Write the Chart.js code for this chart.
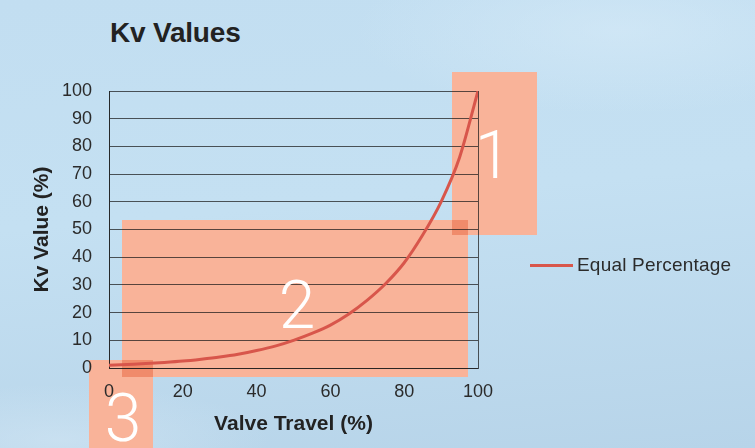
<!DOCTYPE html>
<html>
<head>
<meta charset="utf-8">
<script src="https://cdn.jsdelivr.net/npm/chart.js@4/dist/chart.umd.min.js"></script>
<style>
  html, body { margin: 0; padding: 0; }
  body {
    width: 755px; height: 448px; overflow: hidden; position: relative;
    font-family: "Liberation Sans", Arial, sans-serif;
    background:
      radial-gradient(ellipse 380px 120px at 620px 30px, rgba(215,235,248,0.6), rgba(215,235,248,0) 70%),
      radial-gradient(ellipse 300px 80px at 60px 440px, rgba(210,230,244,0.6), rgba(210,230,244,0) 70%),
      linear-gradient(175deg, #c2def1 0%, #c4e0f2 45%, #b7d4e9 100%);
  }
  .box { position: absolute; background: #f9b399; }
  .overlap { position: absolute; background: #f08b6b; }
  .num {
    position: absolute; width: 100px; text-align: center; color: #fff;
    font-family: Roboto, sans-serif; font-weight: 300; font-size: 66px; line-height: 66px;
    z-index: 3;
  }
  #title {
    position: absolute; left: 110px; top: 19px; margin: 0;
    font: bold 28px/28px "Liberation Sans", Arial, sans-serif; letter-spacing: -0.2px;
    color: #222;
  }
  #wrap { position: absolute; left: 0; top: 0; width: 755px; height: 448px; z-index: 2; }
  #legend { position: absolute; left: 530px; top: 254px; z-index: 2; display: flex; align-items: center; }
  #legend .swatch { width: 43px; height: 3px; margin-right: 4px; }
  #legend .label { font-size: 19px; color: #2b2b2b; letter-spacing: 0.2px; }
</style>
</head>
<body>
<div class="box" style="left:452px;top:72px;width:85px;height:163px"></div>
<div class="box" style="left:122px;top:220px;width:346px;height:157px"></div>
<div class="box" style="left:89px;top:360px;width:64px;height:88px"></div>
<div class="overlap" style="left:452px;top:220px;width:16px;height:15px"></div>
<div class="overlap" style="left:122px;top:360px;width:31px;height:17px"></div>

<h1 id="title">Kv Values</h1>
<div id="wrap"><canvas id="kvChart" width="755" height="448"></canvas></div>
<div id="legend"></div>

<div class="num" style="left:443px;top:123px">1</div>
<div class="num" style="left:247px;top:273px">2</div>
<div class="num" style="left:73px;top:386px">3</div>

<script>
// values
const travel = [0, 5, 10, 15, 20, 25, 30, 35, 40, 45, 50, 55, 60, 65, 70, 75, 80, 85, 90, 95, 100];
const kvEqualPct = [1.0, 1.3, 1.6, 2.0, 2.5, 3.2, 4.0, 5.0, 6.3, 7.9, 10.0, 12.5, 15.5, 19.5, 24.5, 30.5, 38, 48, 60, 76, 100];
const seriesLabel = 'Equal Percentage';
const xTicks = [0, 20, 40, 60, 80, 100];
const yTicks = [0, 10, 20, 30, 40, 50, 60, 70, 80, 90, 100];

const lineColor = '#d8564b';
const gridColor = 'rgba(25, 25, 25, 0.72)';
const tickColor = '#2b2b2b';
const fontFamily = '"Liberation Sans", Arial, sans-serif';

const ctx = document.getElementById('kvChart').getContext('2d');
const kvChart = new Chart(ctx, {
    type: 'line',
    data: {
        datasets: [{
            label: seriesLabel,
            data: travel.map((t, i) => ({ x: t, y: kvEqualPct[i] })),
            borderColor: lineColor,
            backgroundColor: lineColor,
            borderWidth: 3,
            pointRadius: 0,
            cubicInterpolationMode: 'monotone',
            fill: false
        }]
    },
    options: {
        responsive: false,
        animation: false,
        layout: { padding: { left: 0, right: 277, top: 91, bottom: 0 } },
        plugins: {
            legend: { display: false },
            tooltip: { enabled: false }
        },
        scales: {
            x: {
                type: 'linear',
                min: 0,
                max: 100,
                afterBuildTicks: function(scale) {
                    scale.ticks = xTicks.map(v => ({ value: v }));
                },
                afterFit: function(scale) { scale.height = 80; },
                grid: {
                    drawTicks: false,
                    color: function(c) {
                        return (c.tick && (c.tick.value === 0 || c.tick.value === 100)) ? gridColor : 'rgba(0,0,0,0)';
                    }
                },
                border: { color: gridColor, width: 1 },
                ticks: {
                    padding: 13,
                    color: tickColor,
                    font: { family: fontFamily, size: 18 }
                },
                title: {
                    display: true,
                    text: 'Valve Travel (%)',
                    color: '#222',
                    font: { family: fontFamily, size: 21, weight: 'bold' },
                    padding: { top: 0, bottom: 11 }
                }
            },
            y: {
                min: 0,
                max: 100,
                afterBuildTicks: function(scale) {
                    scale.ticks = yTicks.map(v => ({ value: v }));
                },
                afterFit: function(scale) { scale.width = 109; },
                grid: { drawTicks: false, color: gridColor },
                border: { color: gridColor, width: 1 },
                ticks: {
                    padding: 17,
                    color: tickColor,
                    font: { family: fontFamily, size: 18 }
                },
                title: {
                    display: true,
                    text: 'Kv Value (%)',
                    color: '#222',
                    font: { family: fontFamily, size: 21, weight: 'bold' },
                    padding: { top: 30, bottom: 0 }
                }
            }
        }
    }
});

// html legend from the dataset
const legendEl = document.getElementById('legend');
kvChart.data.datasets.forEach(ds => {
    legendEl.innerHTML += `<div class="swatch" style="background:${ds.borderColor}"></div><span class="label">${ds.label}</span>`;
});
</script>
</body>
</html>
